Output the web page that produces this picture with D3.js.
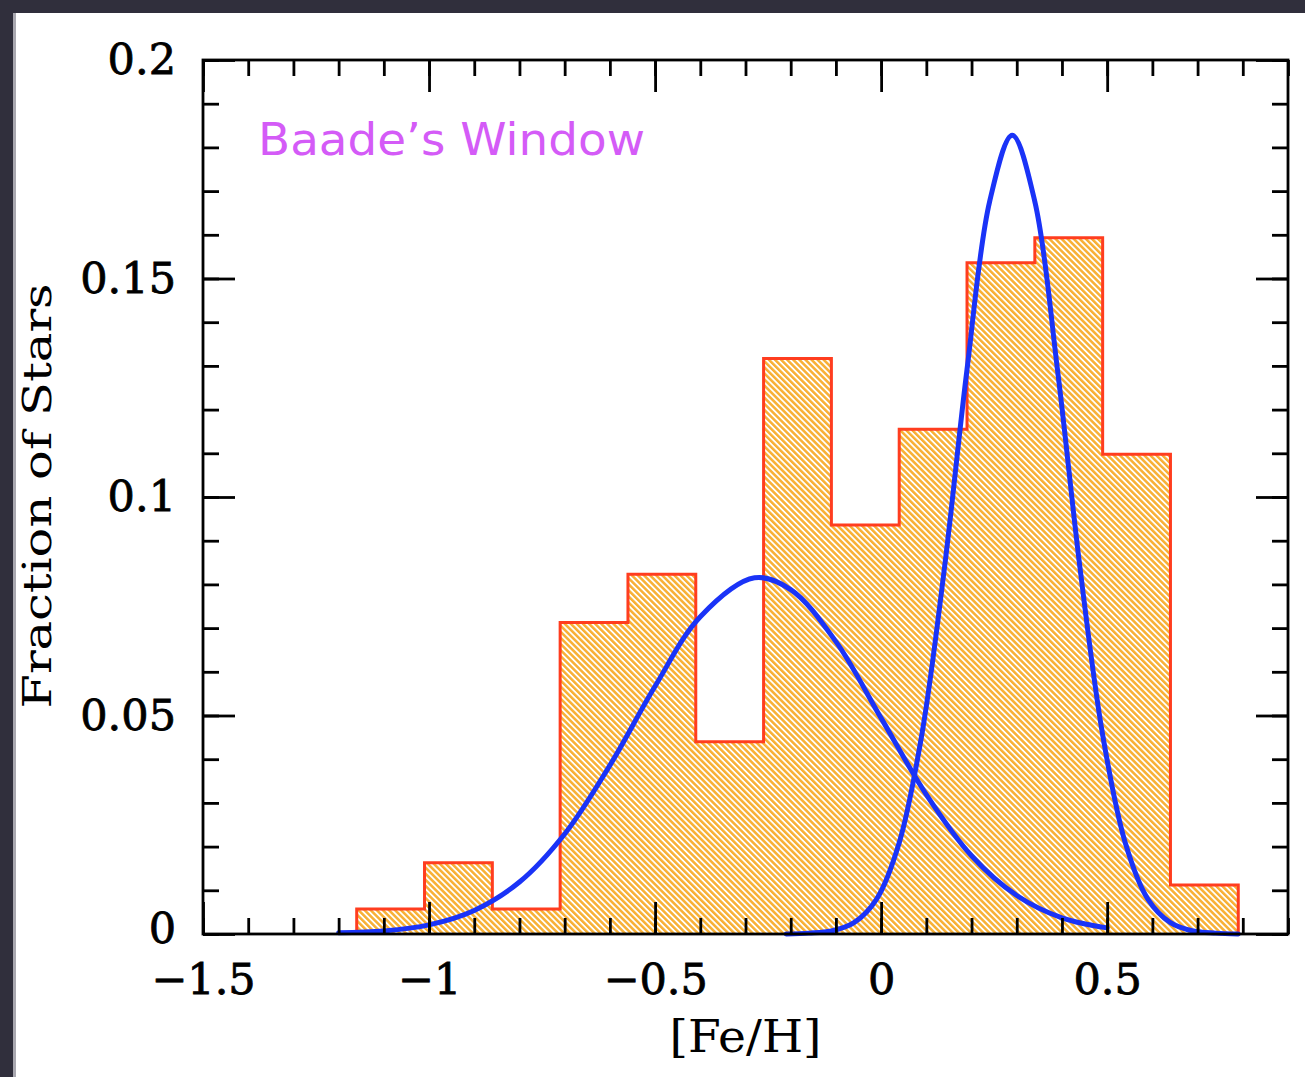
<!DOCTYPE html>
<html><head><meta charset="utf-8">
<script src="https://cdn.jsdelivr.net/npm/d3@7"></script>
<style>html,body{margin:0;padding:0;background:#fff;overflow:hidden}</style>
</head><body>
<svg id="c" width="1305" height="1077"></svg>
<script>
// ---- data ----
const binEdges = [-1.16, -1.01, -0.86, -0.71, -0.56, -0.41, -0.26, -0.11, 0.04, 0.19, 0.34, 0.49, 0.64, 0.79];
const binFractions = [0.0057, 0.0163, 0.0057, 0.0713, 0.0823, 0.0440, 0.1317, 0.0936, 0.1155, 0.1536, 0.1593, 0.1098, 0.0112];

const metalPoorX = [-1.20, -1.10, -1.00, -0.90, -0.80, -0.70, -0.60, -0.50, -0.40, -0.28, -0.20, -0.10, 0.00, 0.10, 0.20, 0.30, 0.40, 0.50];
const metalPoorY = [0.0003, 0.0007, 0.0021, 0.0054, 0.0119, 0.0229, 0.0386, 0.0567, 0.0726, 0.0815, 0.0788, 0.0669, 0.0494, 0.0319, 0.0179, 0.0088, 0.0037, 0.0014];

const metalRichX = [-0.21, -0.16, -0.11, -0.06, -0.01, 0.04, 0.09, 0.14, 0.19, 0.24, 0.29, 0.34, 0.39, 0.44, 0.49, 0.54, 0.59, 0.64, 0.69, 0.74, 0.79];
const metalRichY = [0.0000, 0.0002, 0.0007, 0.0026, 0.0080, 0.0209, 0.0456, 0.0837, 0.1292, 0.1676, 0.1828, 0.1676, 0.1292, 0.0837, 0.0456, 0.0209, 0.0080, 0.0026, 0.0007, 0.0002, 0.0000];

const xMajorTicks = [-1.5, -1, -0.5, 0, 0.5];
const xMinorTicks = [-1.5,-1.4,-1.3,-1.2,-1.1,-1.0,-0.9,-0.8,-0.7,-0.6,-0.5,-0.4,-0.3,-0.2,-0.1,0,0.1,0.2,0.3,0.4,0.5,0.6,0.7,0.8,0.9];
const yMajorTicks = [0, 0.05, 0.1, 0.15, 0.2];
const yMinorTicks = [0,0.01,0.02,0.03,0.04,0.05,0.06,0.07,0.08,0.09,0.1,0.11,0.12,0.13,0.14,0.15,0.16,0.17,0.18,0.19,0.2];

const xTitle = "[Fe/H]";
const yTitle = "Fraction of Stars";
const panelLabel = "Baade\u2019s Window";

// ---- drawing ----
const W = 1305, H = 1077;
const L = 203, R = 1288, T = 60, B = 934;
const svg = d3.select('#c');
const x = d3.scaleLinear().domain([-1.5, 0.9]).range([L, R]);
const y = d3.scaleLinear().domain([0, 0.2]).range([B, T]);

svg.append('rect').attr('width', W).attr('height', H).attr('fill', '#fff');
svg.append('rect').attr('x', 0).attr('y', 0).attr('width', W).attr('height', 13).attr('fill', '#302f3c');
svg.append('rect').attr('x', 0).attr('y', 0).attr('width', 14).attr('height', H).attr('fill', '#302f3c');
svg.append('rect').attr('x', 13).attr('y', 13).attr('width', 3).attr('height', H).attr('fill', '#a9a8b0');

const defs = svg.append('defs');
const pat = defs.append('pattern').attr('id', 'hatch')
  .attr('patternUnits', 'userSpaceOnUse').attr('width', 4.3).attr('height', 10)
  .attr('patternTransform', 'rotate(-45)');
pat.append('rect').attr('width', 4.3).attr('height', 10).attr('fill', '#ffffff');
pat.append('rect').attr('width', 2.5).attr('height', 10).attr('fill', '#f8b035');

// histogram step outline
const pts = [[binEdges[0], 0]];
binFractions.forEach((v, i) => { pts.push([binEdges[i], v]); pts.push([binEdges[i + 1], v]); });
pts.push([binEdges[binEdges.length - 1], 0]);
const line = d3.line().x(d => x(d[0])).y(d => y(d[1]));
svg.append('path').attr('d', line(pts) + 'Z').attr('fill', 'url(#hatch)').attr('stroke', 'none');
svg.append('path').attr('d', line(pts)).attr('fill', 'none').attr('stroke', '#ff3d1f')
  .attr('stroke-width', 3).attr('stroke-linejoin', 'miter');

// curves
const curve = d3.line().x(d => x(d[0])).y(d => y(d[1])).curve(d3.curveCatmullRom.alpha(0.5));
[[metalPoorX, metalPoorY], [metalRichX, metalRichY]].forEach(([xs, ys]) => {
  svg.append('path').attr('d', curve(xs.map((v, i) => [v, ys[i]])))
    .attr('fill', 'none').attr('stroke', '#1a33f7').attr('stroke-width', 5).attr('stroke-linecap', 'round');
});

// axes (ticks inward on all four sides)
const fmt = d => d === 0 ? '0' : d3.format('~g')(d);
function styleAxis(g) {
  g.select('.domain').remove();
  g.selectAll('.tick line').attr('stroke', '#000').attr('stroke-width', 2.8);
  g.selectAll('text').attr('fill', '#000').attr('stroke', '#000').attr('stroke-width', 0.8)
    .attr('font-family', '"DejaVu Serif", serif').attr('font-size', 43);
}
const addAxis = (axis, tx, ty) => svg.append('g').attr('transform', `translate(${tx},${ty})`).call(axis).call(styleAxis);

addAxis(d3.axisBottom(x).tickValues(xMinorTicks).tickSize(-16).tickFormat(''), 0, B);
addAxis(d3.axisBottom(x).tickValues(xMajorTicks).tickSize(-32).tickPadding(29).tickFormat(fmt), 0, B);
addAxis(d3.axisTop(x).tickValues(xMinorTicks).tickSize(-16).tickFormat(''), 0, T);
addAxis(d3.axisTop(x).tickValues(xMajorTicks).tickSize(-32).tickFormat(''), 0, T);
addAxis(d3.axisLeft(y).tickValues(yMinorTicks).tickSize(-16).tickFormat(''), L, 0);
const yAx = addAxis(d3.axisLeft(y).tickValues(yMajorTicks).tickSize(-32).tickPadding(27).tickFormat(fmt), L, 0);
yAx.selectAll('.tick').filter(d => d === 0).select('text').attr('y', -5);
addAxis(d3.axisRight(y).tickValues(yMinorTicks).tickSize(-16).tickFormat(''), R, 0);
addAxis(d3.axisRight(y).tickValues(yMajorTicks).tickSize(-32).tickFormat(''), R, 0);

// frame
svg.append('rect').attr('x', L).attr('y', T).attr('width', R - L).attr('height', B - T)
  .attr('fill', 'none').attr('stroke', '#000').attr('stroke-width', 2.8);

// titles
svg.append('text').attr('x', (L + R) / 2).attr('y', 1052).attr('text-anchor', 'middle')
  .attr('font-family', '"DejaVu Serif", serif').attr('font-size', 44)
  .attr('textLength', 152).attr('lengthAdjust', 'spacingAndGlyphs').text(xTitle);
svg.append('text').attr('transform', 'translate(51,496) rotate(-90)').attr('text-anchor', 'middle')
  .attr('font-family', '"DejaVu Serif", serif').attr('font-size', 40)
  .attr('textLength', 425).attr('lengthAdjust', 'spacingAndGlyphs').text(yTitle);
svg.append('text').attr('x', 258).attr('y', 155)
  .attr('font-family', '"DejaVu Sans", Verdana, sans-serif').attr('font-size', 45).attr('fill', '#d45bf7')
  .attr('textLength', 387).attr('lengthAdjust', 'spacingAndGlyphs').text(panelLabel);
</script>
</body></html>
